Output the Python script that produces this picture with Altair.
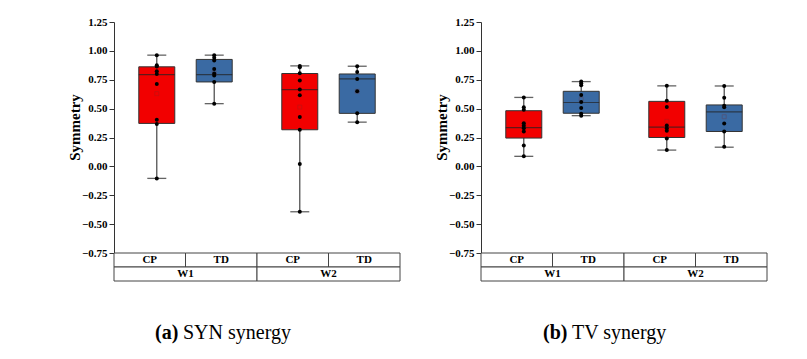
import altair as alt
import pandas as pd

groups = ["W1", "W1", "W2", "W2"]
subs = ["CP", "TD", "CP", "TD"]
tick_values = [-0.75, -0.5, -0.25, 0.0, 0.25, 0.5, 0.75, 1.0, 1.25]

# (a) SYN synergy -- box statistics
syn_lo = [-0.104, 0.543, -0.393, 0.383]
syn_q1 = [0.372, 0.731, 0.317, 0.459]
syn_med = [0.795, 0.795, 0.665, 0.757]
syn_q3 = [0.862, 0.926, 0.804, 0.800]
syn_hi = [0.963, 0.963, 0.870, 0.867]
syn_mean = [0.630, 0.810, 0.513, 0.650]
syn_w1_cp = [0.963, 0.876, 0.865, 0.824, 0.800, 0.714, 0.404, 0.366, -0.104]
syn_w1_td = [0.963, 0.940, 0.917, 0.844, 0.804, 0.787, 0.731, 0.543]
syn_w2_cp = [0.870, 0.859, 0.807, 0.743, 0.665, 0.615, 0.427, 0.317, 0.021, -0.393]
syn_w2_td = [0.867, 0.818, 0.757, 0.650, 0.461, 0.383]

# (b) TV synergy
tv_lo = [0.087, 0.439, 0.141, 0.166]
tv_q1 = [0.245, 0.460, 0.250, 0.302]
tv_med = [0.335, 0.553, 0.340, 0.471]
tv_q3 = [0.482, 0.650, 0.563, 0.532]
tv_hi = [0.597, 0.734, 0.697, 0.696]
tv_mean = [0.360, 0.580, 0.390, 0.430]
tv_w1_cp = [0.597, 0.511, 0.490, 0.374, 0.352, 0.331, 0.302, 0.180, 0.087]
tv_w1_td = [0.734, 0.720, 0.702, 0.618, 0.557, 0.505, 0.455, 0.439]
tv_w2_cp = [0.697, 0.569, 0.513, 0.354, 0.331, 0.308, 0.241, 0.141]
tv_w2_td = [0.696, 0.595, 0.524, 0.511, 0.372, 0.302, 0.170]

RED = "#f20000"
BLUE = "#3a6aa3"
SERIF = "Liberation Serif"


def stats_df(lo, q1, med, q3, hi, mean):
    return pd.DataFrame({"group": groups, "sub": subs, "lo": lo, "q1": q1,
                         "med": med, "q3": q3, "hi": hi, "mean": mean})


def points_df(lists):
    rows = []
    for g, s, vals in zip(groups, subs, lists):
        for v in vals:
            rows.append({"group": g, "sub": s, "value": v})
    return pd.DataFrame(rows)


def panel(stats, pts, letter, caption, cap_x, cap_gap):
    x = alt.X("group:N", axis=None, sort=["W1", "W2"],
              scale=alt.Scale(paddingInner=0, paddingOuter=0))
    xo = alt.XOffset("sub:N", sort=["CP", "TD"],
                     scale=alt.Scale(paddingInner=0, paddingOuter=0.245))
    ysc = alt.Scale(domain=[-0.75, 1.25], nice=False, zero=False)
    yax = alt.Axis(values=tick_values, format=".2f", grid=False,
                   labelFont=SERIF, labelFontWeight="bold", labelFontSize=11,
                   labelColor="black", labelPadding=2, tickSize=5,
                   tickColor="#333", domainColor="#333",
                   titleFont=SERIF, titleFontWeight="bold", titleFontSize=15,
                   titleColor="black", titleX=-40, titleY=105,
                   titleBaseline="middle")

    def Y(f):
        return alt.Y(f, scale=ysc, axis=yax, title="Symmetry")

    base = alt.Chart(stats)
    whisk = base.mark_rule(color="#444", strokeWidth=1.2).encode(
        x=x, xOffset=xo, y=Y("lo:Q"), y2="hi:Q")
    cap_lo = base.mark_tick(color="#222", size=19, thickness=1.3).encode(
        x=x, xOffset=xo, y=Y("lo:Q"))
    cap_hi = base.mark_tick(color="#222", size=19, thickness=1.3).encode(
        x=x, xOffset=xo, y=Y("hi:Q"))
    box = base.mark_bar(width=36, stroke="#333", strokeWidth=1).encode(
        x=x, xOffset=xo, y=Y("q1:Q"), y2="q3:Q",
        color=alt.Color("sub:N", scale=alt.Scale(domain=["CP", "TD"], range=[RED, BLUE]),
                        legend=None))
    med = base.mark_tick(color="#222", size=36, thickness=1.2).encode(
        x=x, xOffset=xo, y=Y("med:Q"))
    mean = base.mark_point(shape="square", size=16, filled=False, color="#7a2a2a",
                           strokeWidth=0.8, opacity=0.35).encode(
        x=x, xOffset=xo, y=Y("mean:Q"))
    dots = alt.Chart(pts).mark_circle(size=16, color="black", opacity=1).encode(
        x=x, xOffset=xo, y=Y("value:Q"))
    top = alt.layer(whisk, cap_lo, cap_hi, box, med, mean, dots).properties(
        width=286, height=231)

    # two-row category table under the plot
    t1 = pd.DataFrame({"group": groups, "sub": subs, "row": ["r1"] * 4})
    t2 = pd.DataFrame({"group": ["W1", "W2"], "row": ["r2", "r2"]})
    xt = alt.X("group:N", axis=None, sort=["W1", "W2"],
               scale=alt.Scale(paddingInner=0, paddingOuter=0))
    xot = alt.XOffset("sub:N", sort=["CP", "TD"],
                      scale=alt.Scale(paddingInner=0, paddingOuter=0))
    yt = alt.Y("row:N", axis=None, sort=["r1", "r2"],
               scale=alt.Scale(paddingInner=0, paddingOuter=0))
    rect1 = alt.Chart(t1).mark_rect(fill="white", stroke="#444", strokeWidth=1).encode(
        x=xt, xOffset=xot, y=yt)
    text1 = alt.Chart(t1).mark_text(font=SERIF, fontWeight="bold", fontSize=11,
                                    color="black", baseline="middle").encode(
        x=xt, xOffset=xot, y=yt, text="sub:N")
    rect2 = alt.Chart(t2).mark_rect(fill="white", stroke="#444", strokeWidth=1).encode(
        x=xt, y=yt)
    text2 = alt.Chart(t2).mark_text(font=SERIF, fontWeight="bold", fontSize=11,
                                    color="black", baseline="middle").encode(
        x=xt, y=yt, text="group:N")
    table = alt.layer(rect1, rect2, text1, text2).properties(width=286, height=28)

    capdf = pd.DataFrame({"a": [letter], "b": [caption]})
    c1 = alt.Chart(capdf).mark_text(font=SERIF, fontSize=20, fontWeight="bold",
                                    align="left", baseline="alphabetic",
                                    color="black").encode(
        text="a:N", x=alt.value(cap_x), y=alt.value(58))
    c2 = alt.Chart(capdf).mark_text(font=SERIF, fontSize=20, align="left",
                                    baseline="alphabetic", color="black").encode(
        text="b:N", x=alt.value(cap_x + cap_gap), y=alt.value(58))
    cap = alt.layer(c1, c2).properties(width=286, height=66)

    return alt.vconcat(top, table, cap, spacing=0, bounds="flush").resolve_scale(
        x="independent", xOffset="independent", y="independent")


left = panel(stats_df(syn_lo, syn_q1, syn_med, syn_q3, syn_hi, syn_mean),
             points_df([syn_w1_cp, syn_w1_td, syn_w2_cp, syn_w2_td]),
             "(a)", "SYN synergy", 41, 28)
right = panel(stats_df(tv_lo, tv_q1, tv_med, tv_q3, tv_hi, tv_mean),
              points_df([tv_w1_cp, tv_w1_td, tv_w2_cp, tv_w2_td]),
              "(b)", "TV synergy", 62, 29)

chart = alt.hconcat(left, right, spacing=33).resolve_scale(
    x="independent", xOffset="independent", y="independent").properties(
    padding={"left": 59, "top": 8, "right": 5, "bottom": 5},
    background="white",
).configure_view(stroke=None)

chart.save("out.html", embed_options={"renderer": "svg", "actions": False})
